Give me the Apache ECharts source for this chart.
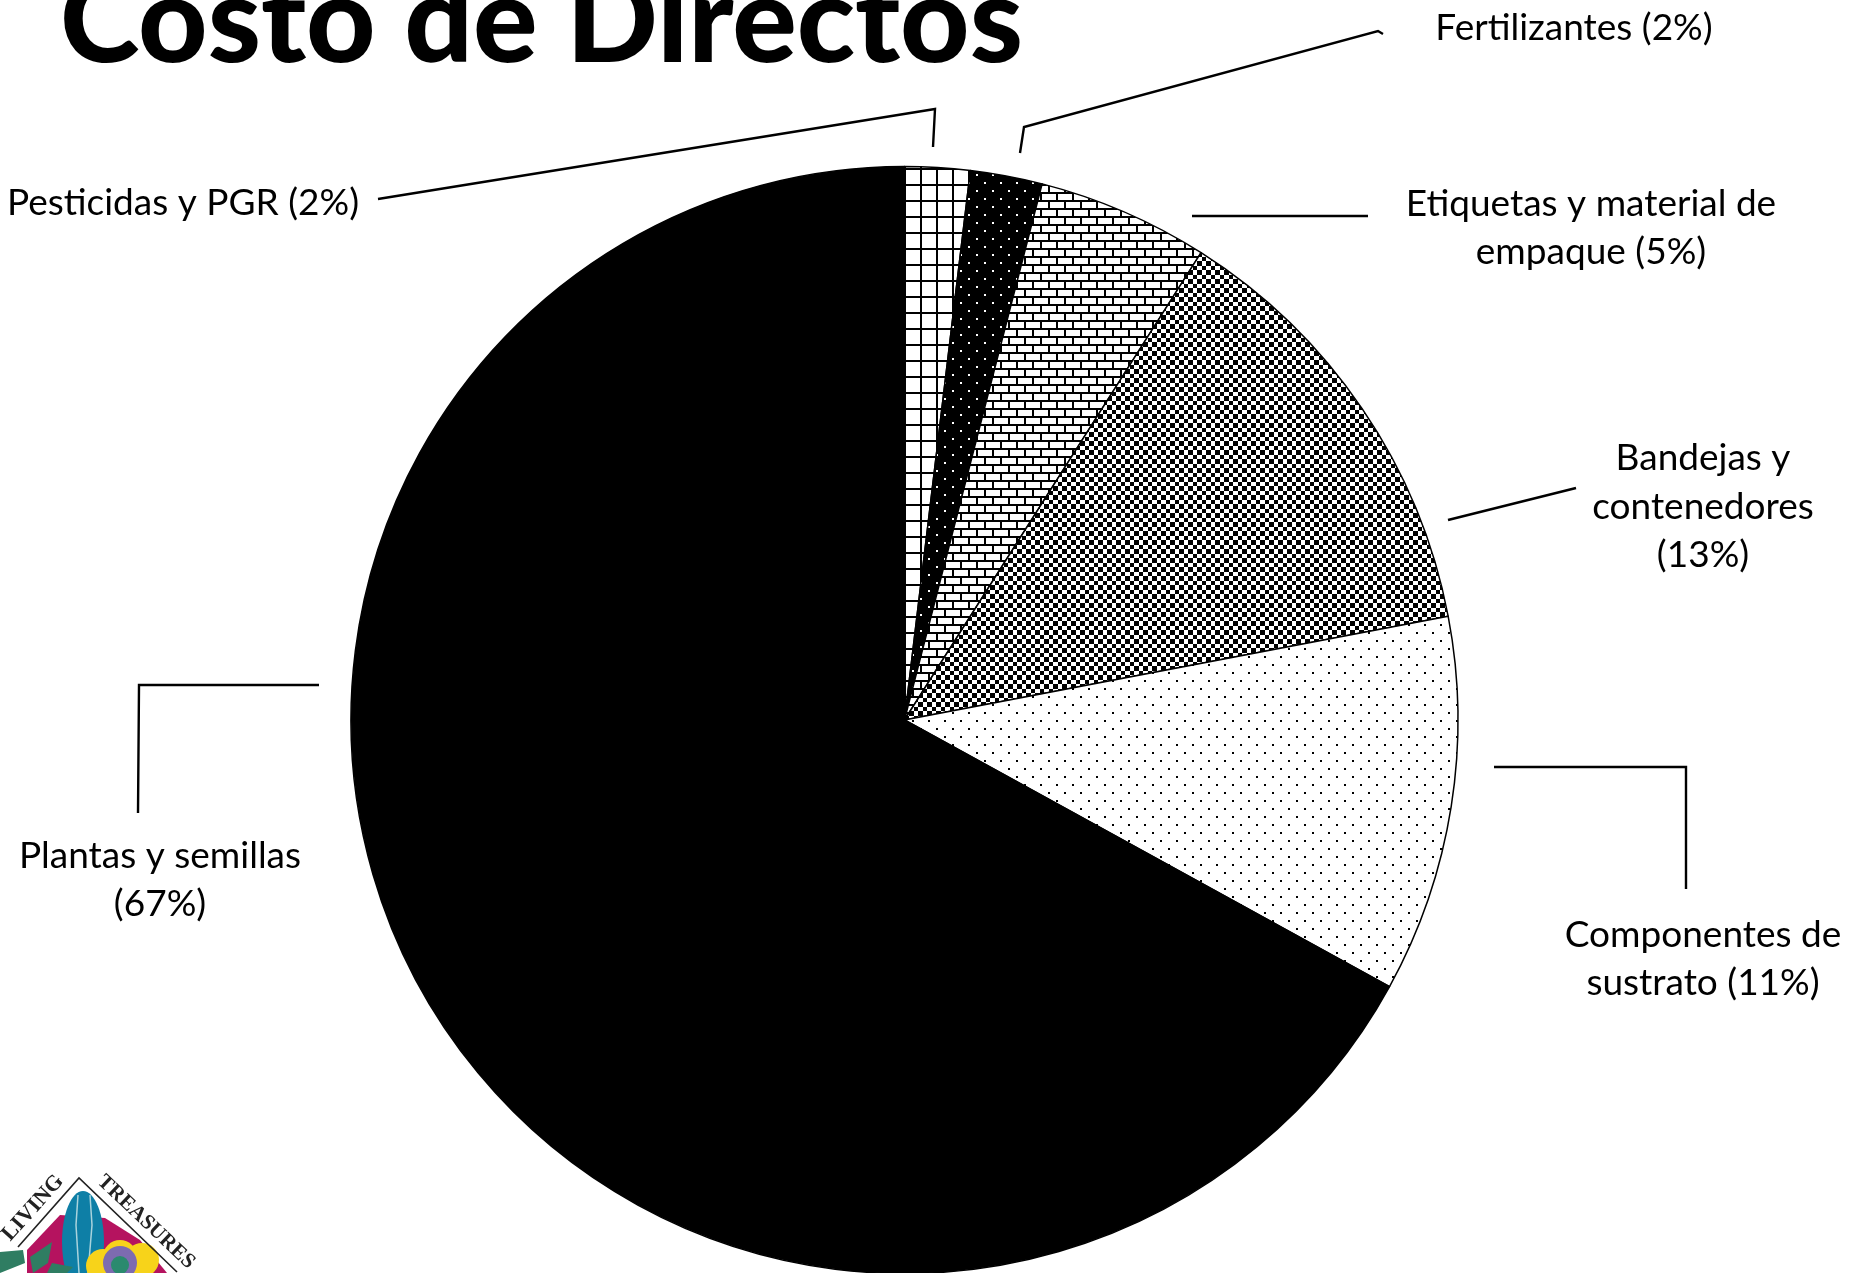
<!DOCTYPE html>
<html><head><meta charset="utf-8">
<style>html,body{margin:0;padding:0;background:#fff}#c{width:1851px;height:1273px}</style>
<script src="https://cdn.jsdelivr.net/npm/echarts@6/dist/echarts.min.js"></script>
</head><body><div id="c"></div>
<script>
const titleText = 'Costo de Directos';
const categories = ['Pesticidas y PGR (2%)','Fertilizantes (2%)','Etiquetas y material de\nempaque (5%)','Bandejas y\ncontenedores\n(13%)','Componentes de\nsustrato (11%)','Plantas y semillas\n(67%)'];
const values = [1.9, 2.1, 5, 13, 11, 67];

function tile(w, h, bg, draw){
  const c = document.createElement('canvas'); c.width = w; c.height = h;
  const g = c.getContext('2d'); g.fillStyle = bg; g.fillRect(0,0,w,h);
  g.fillStyle = bg === '#000' ? '#fff' : '#000'; draw(g); return {image:c, repeat:'repeat'};
}
const fills = [
  tile(16,16,'#fff',g=>{g.fillRect(8,0,2,16);g.fillRect(0,8,16,2);}),
  tile(16,16,'#000',g=>{g.fillRect(8,6,2,2);g.fillRect(0,14,2,2);}),
  tile(16,16,'#fff',g=>{g.fillRect(0,0,16,2);g.fillRect(0,8,16,2);g.fillRect(0,2,2,6);g.fillRect(8,10,2,6);}),
  tile(18,18,'#fff',g=>{
    const s=[0,5,9,14,18];
    for(let r=0;r<4;r++)for(let c=0;c<4;c++)if((r+c)%2===0)g.fillRect(s[c],s[r],s[c+1]-s[c],s[r+1]-s[r]);
  }),
  tile(16,16,'#fff',g=>{g.fillRect(8,8,2,2);g.fillRect(0,0,2,2);}),
  '#000'
];
const labelPos = [
  {x:183,y:203},{x:1574,y:28},{x:1591,y:228},{x:1703,y:507},{x:1703,y:959},{x:160,y:880}
];
const leaders = [
  [[378,199],[935,109],[933,147]],
  [[1020,153],[1024,127],[1378,31],[1383,34]],
  [[1192,216],[1368,216]],
  [[1448,520],[1576,488]],
  [[1494,767],[1686,767],[1686,889]],
  [[319,685],[139,685],[138,813]]
];
const chart = echarts.init(document.getElementById('c'), null, {renderer:'canvas'});
const logoGreen = '#2f7d62';
chart.setOption({
  backgroundColor:'#fff',
  animation:false,
  title:{text:titleText,left:55,top:-42,textStyle:{fontFamily:'Lato',fontWeight:900,fontSize:120.5,color:'#000'}},
  series:[{
    type:'pie', center:[904.5,720], radius:[0,553.5], startAngle:90, clockwise:true,
    avoidLabelOverlap:false, silent:true,
    data:categories.map((n,i)=>({name:n,value:values[i],itemStyle:{color:fills[i]}})),
    itemStyle:{borderColor:'#000',borderWidth:1.5},
    label:{show:true,position:'outside',formatter:'{b}',fontFamily:'Lato',fontSize:37,lineHeight:48.5,color:'#000',align:'center'},
    labelLine:{show:true,smooth:false,lineStyle:{color:'#000',width:2.4}},
    labelLayout:p=>({x:labelPos[p.dataIndex].x,y:labelPos[p.dataIndex].y,align:'center',verticalAlign:'middle',labelLinePoints:leaders[p.dataIndex]})
  }],
  graphic:[
    {type:'polygon',shape:{points:[[27,1250],[60,1215],[105,1218],[140,1240],[167,1273],[27,1273]]},style:{fill:'#b5135f'}},
    {type:'ellipse',shape:{cx:83,cy:1242,rx:21,ry:51},style:{fill:'#0e7fa6'}},
    {type:'polyline',shape:{points:[[78,1195],[76,1225],[79,1273]]},style:{stroke:'#a9d3dc',lineWidth:1.5,fill:null}},
    {type:'polyline',shape:{points:[[90,1195],[92,1225],[88,1273]]},style:{stroke:'#a9d3dc',lineWidth:1.5,fill:null}},
    {type:'circle',shape:{cx:103,cy:1266,r:17},style:{fill:'#f7d31a'}},
    {type:'circle',shape:{cx:120,cy:1257,r:17},style:{fill:'#f7d31a'}},
    {type:'circle',shape:{cx:142,cy:1260,r:17},style:{fill:'#f7d31a'}},
    {type:'circle',shape:{cx:120,cy:1263,r:17},style:{fill:'#7d6bb0'}},
    {type:'circle',shape:{cx:120,cy:1265,r:9},style:{fill:'#2a8a6e'}},
    {type:'polyline',shape:{points:[[18,1247],[79,1178],[177,1272]]},style:{stroke:'#222',lineWidth:1.6,fill:null}},
    {type:'polygon',shape:{points:[[0,1252],[23,1250],[25,1263],[0,1273]]},style:{fill:logoGreen}},
    {type:'polygon',shape:{points:[[30,1257],[52,1242],[48,1263],[33,1273]]},style:{fill:logoGreen}},
    {type:'polygon',shape:{points:[[52,1263],[73,1267],[67,1273],[47,1273]]},style:{fill:logoGreen}},
    {type:'text',x:33,y:1208,rotation:0.84,style:{text:'LIVING',font:'bold 22px "Liberation Serif"',fill:'#222',align:'center',verticalAlign:'middle'}},
    {type:'text',x:146,y:1222,rotation:-0.76,style:{text:'TREASURES',font:'bold 21px "Liberation Serif"',fill:'#222',align:'center',verticalAlign:'middle'}}
  ]
});
</script></body></html>
